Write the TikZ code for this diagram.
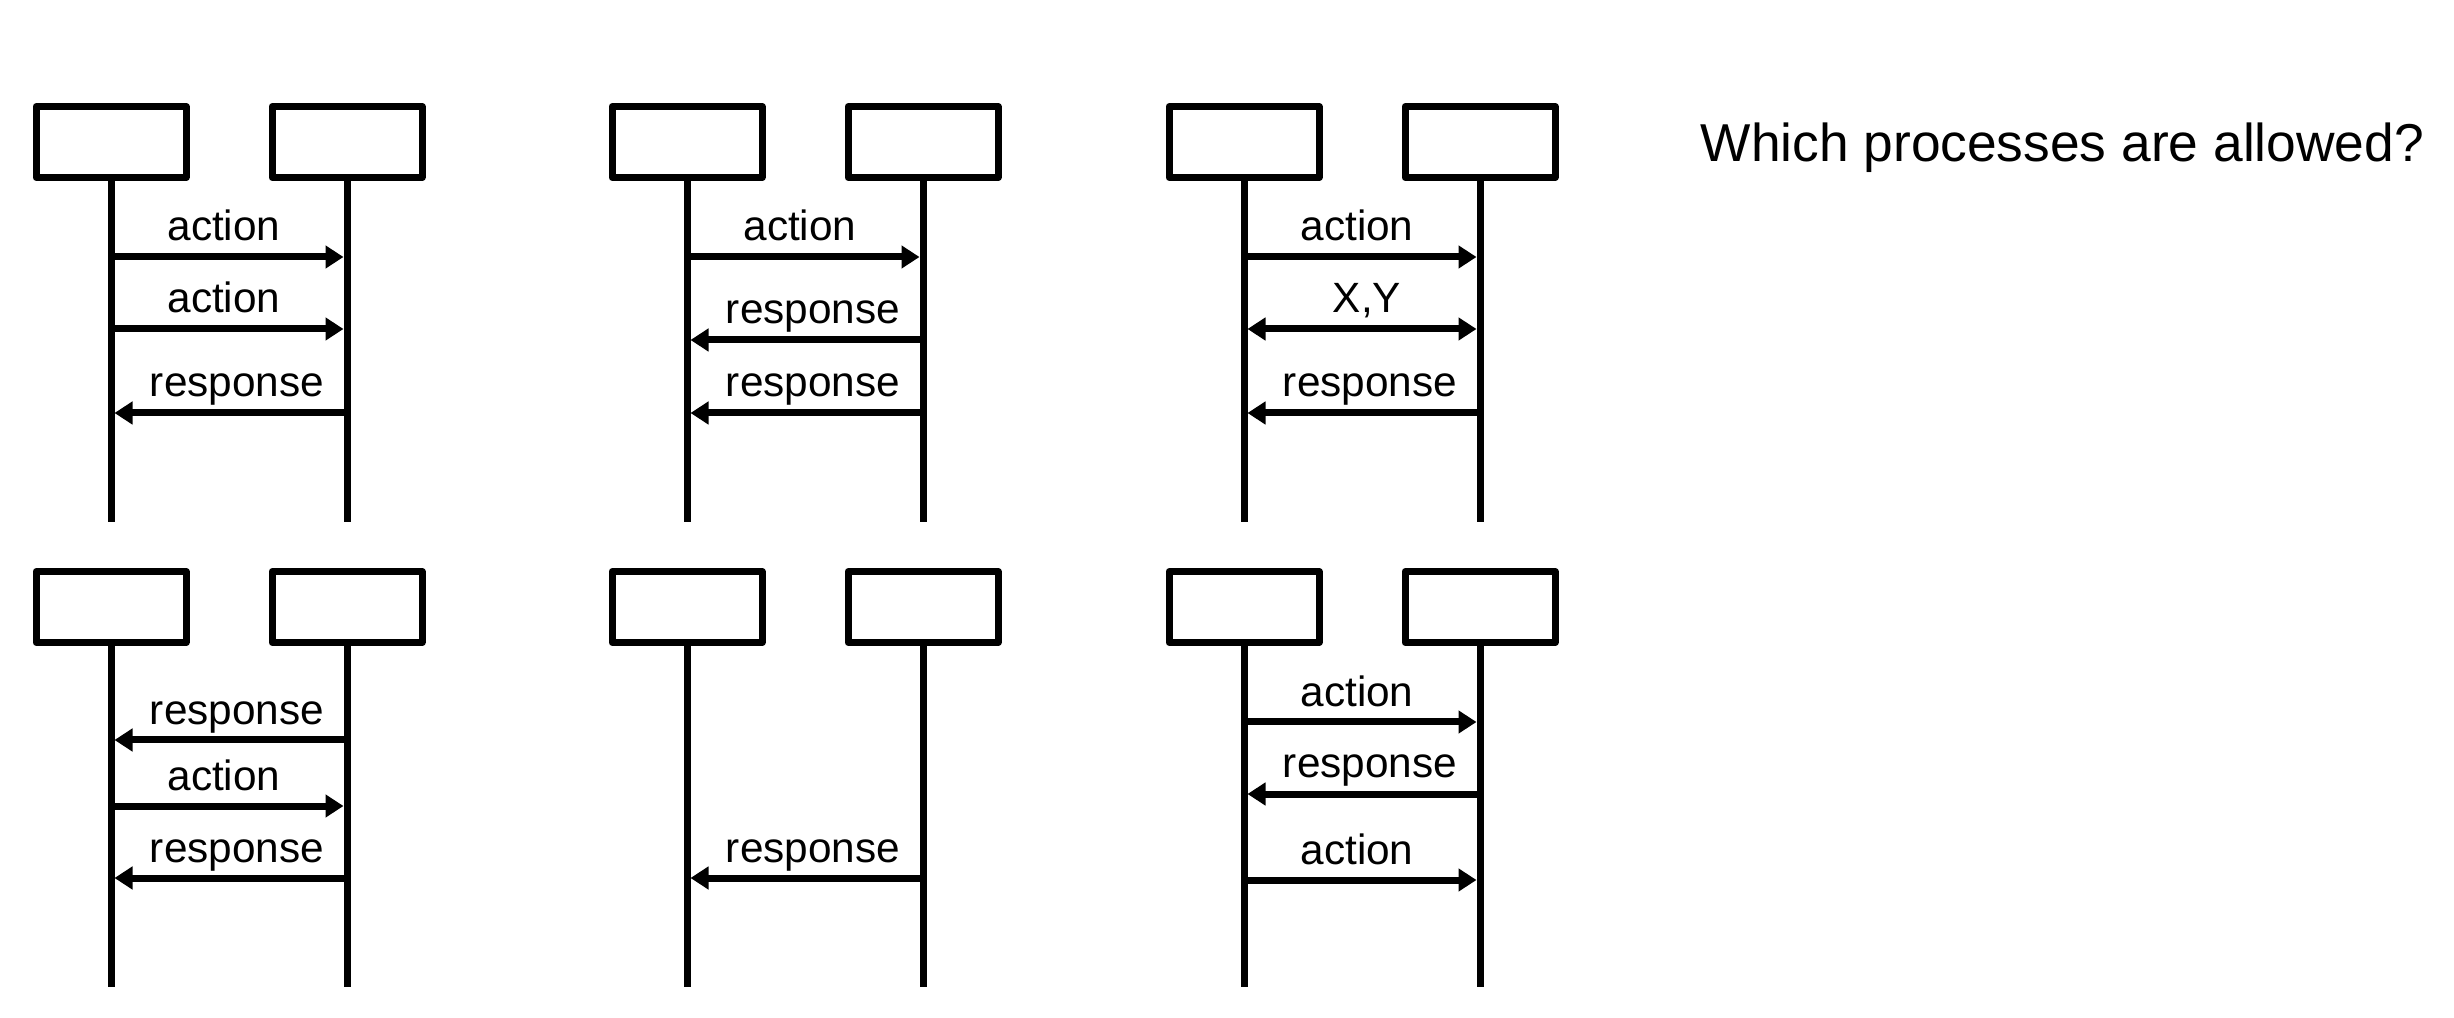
\documentclass[tikz,border=0pt]{standalone}
\usepackage{fontspec}
\setmainfont{Liberation Sans}
\usetikzlibrary{arrows.meta}
\tikzset{
  lifebox/.style={draw, line width=2.1pt, line join=round, minimum width=45pt, minimum height=21.3pt, inner sep=0pt, fill=white},
  lifeline/.style={line width=2.1pt},
  tipshape/.style={},
  msg/.style={line width=2.1pt, -{Triangle[length=5.4pt,width=6.6pt]}, shorten >=1.05pt},
  bimsg/.style={line width=2.1pt, {Triangle[length=5.4pt,width=6.6pt]}-{Triangle[length=5.4pt,width=6.6pt]}, shorten >=1.05pt, shorten <=1.05pt},
  lbl/.style={anchor=base, inner sep=0pt, font=\fontsize{12.7}{15}\selectfont},
  titletext/.style={anchor=base west, inner sep=0pt, font=\fontsize{16}{19}\selectfont},
}
\begin{document}
\begin{tikzpicture}[x=0.3pt,y=-0.3pt]
\useasboundingbox (0,0) rectangle (2454,1018);

% ---------- top row ----------
% group 1
\node[lifebox] (t1a) at (111,142) {};
\node[lifebox] (t1b) at (347,142) {};
\coordinate (t1aend) at (111,522);
\coordinate (t1bend) at (347,522);
\draw[lifeline] (t1a.south) -- (t1aend);
\draw[lifeline] (t1b.south) -- (t1bend);
\draw[msg] (t1a.south |- 0,257) -- (t1b.south |- 0,257);
\node[lbl] (t1l1) at (224,241) {action};
\draw[msg] (t1a.south |- 0,329) -- (t1b.south |- 0,329);
\node[lbl] (t1l2) at (224,313) {action};
\draw[msg] (t1b.south |- 0,413) -- (t1a.south |- 0,413);
\node[lbl] (t1l3) at (237,397) {response};

% group 2
\node[lifebox] (t2a) at (687,142) {};
\node[lifebox] (t2b) at (923,142) {};
\coordinate (t2aend) at (687,522);
\coordinate (t2bend) at (923,522);
\draw[lifeline] (t2a.south) -- (t2aend);
\draw[lifeline] (t2b.south) -- (t2bend);
\draw[msg] (t2a.south |- 0,257) -- (t2b.south |- 0,257);
\node[lbl] (t2l1) at (800,241) {action};
\draw[msg] (t2b.south |- 0,340) -- (t2a.south |- 0,340);
\node[lbl] (t2l2) at (813,324) {response};
\draw[msg] (t2b.south |- 0,413) -- (t2a.south |- 0,413);
\node[lbl] (t2l3) at (813,397) {response};

% group 3
\node[lifebox] (t3a) at (1244,142) {};
\node[lifebox] (t3b) at (1480,142) {};
\coordinate (t3aend) at (1244,522);
\coordinate (t3bend) at (1480,522);
\draw[lifeline] (t3a.south) -- (t3aend);
\draw[lifeline] (t3b.south) -- (t3bend);
\draw[msg] (t3a.south |- 0,257) -- (t3b.south |- 0,257);
\node[lbl] (t3l1) at (1357,241) {action};
\draw[bimsg] (t3a.south |- 0,329) -- (t3b.south |- 0,329);
\node[lbl] (t3l2) at (1367,313) {X,Y};
\draw[msg] (t3b.south |- 0,413) -- (t3a.south |- 0,413);
\node[lbl] (t3l3) at (1370,397) {response};

% ---------- bottom row ----------
% group 1
\node[lifebox] (b1a) at (111,607) {};
\node[lifebox] (b1b) at (347,607) {};
\coordinate (b1aend) at (111,987);
\coordinate (b1bend) at (347,987);
\draw[lifeline] (b1a.south) -- (b1aend);
\draw[lifeline] (b1b.south) -- (b1bend);
\draw[msg] (b1b.south |- 0,740) -- (b1a.south |- 0,740);
\node[lbl] (b1l1) at (237,724) {response};
\draw[msg] (b1a.south |- 0,806) -- (b1b.south |- 0,806);
\node[lbl] (b1l2) at (224,790) {action};
\draw[msg] (b1b.south |- 0,878) -- (b1a.south |- 0,878);
\node[lbl] (b1l3) at (237,862) {response};

% group 2
\node[lifebox] (b2a) at (687,607) {};
\node[lifebox] (b2b) at (923,607) {};
\coordinate (b2aend) at (687,987);
\coordinate (b2bend) at (923,987);
\draw[lifeline] (b2a.south) -- (b2aend);
\draw[lifeline] (b2b.south) -- (b2bend);
\draw[msg] (b2b.south |- 0,878) -- (b2a.south |- 0,878);
\node[lbl] (b2l1) at (813,862) {response};

% group 3
\node[lifebox] (b3a) at (1244,607) {};
\node[lifebox] (b3b) at (1480,607) {};
\coordinate (b3aend) at (1244,987);
\coordinate (b3bend) at (1480,987);
\draw[lifeline] (b3a.south) -- (b3aend);
\draw[lifeline] (b3b.south) -- (b3bend);
\draw[msg] (b3a.south |- 0,722) -- (b3b.south |- 0,722);
\node[lbl] (b3l1) at (1357,706) {action};
\draw[msg] (b3b.south |- 0,794) -- (b3a.south |- 0,794);
\node[lbl] (b3l2) at (1370,778) {response};
\draw[msg] (b3a.south |- 0,880) -- (b3b.south |- 0,880);
\node[lbl] (b3l3) at (1357,864) {action};

% ---------- question ----------
\node[titletext] (title) at (1700,162) {Which processes are allowed?};
\end{tikzpicture}
\end{document}
